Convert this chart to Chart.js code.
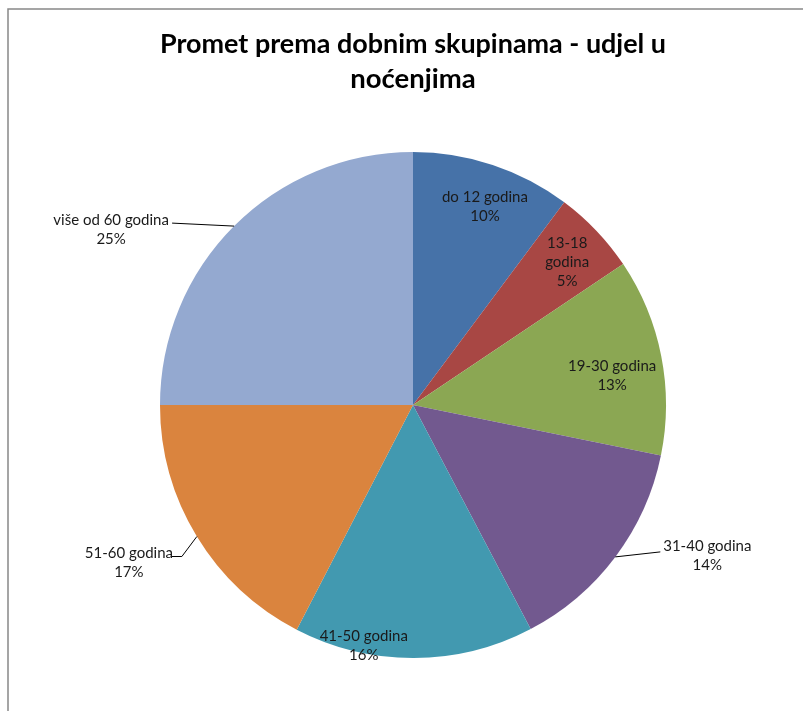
<!DOCTYPE html>
<html>
<head>
<meta charset="utf-8">
<script src="https://cdn.jsdelivr.net/npm/chart.js@4.4.1/dist/chart.umd.min.js"></script>
<style>
  html, body { margin: 0; padding: 0; background: #fff; }
  #wrap { position: relative; width: 803px; height: 711px; }
</style>
</head>
<body>
<div id="wrap"><canvas id="pie"></canvas></div>
<script>
// udio noćenja po dobnim skupinama (%), očitano s grafa
const titleLines = ['Promet prema dobnim skupinama - udjel u', 'noćenjima'];
const groups  = ['do 12 godina', '13-18 godina', '19-30 godina', '31-40 godina', '41-50 godina', '51-60 godina', 'više od 60 godina'];
const shares  = [10.2, 5.4, 12.6, 14.1, 15.3, 17.4, 25.0];
const shown   = ['10%', '5%', '13%', '14%', '16%', '17%', '25%'];
const colors  = ['#4672a8', '#a84744', '#8ba753', '#72598f', '#4299b0', '#da843e', '#94a9d0'];

// smještaj natpisa: unutar kriške (f = udio polumjera) ili vani s linijom
const labelPlacement = [
  { lines: ['do 12 godina'], f: 0.84, dx: 5, dy: 3 },
  { lines: ['13-18', 'godina'], f: 0.83, dx: 2, dy: 2 },
  { lines: ['19-30 godina'], f: 0.79, dx: 3, dy: 9 },
  { lines: ['31-40 godina'], f: 1.0, leader: [[45, -5]], tx: 47, ty: 4 },
  { lines: ['41-50 godina'], f: 0.95, dx: -50, dy: 0 },
  { lines: ['51-60 godina'], f: 1.0, leader: [[-15, 20], [-25, 20]], tx: -43, ty: 6 },
  { lines: ['više od 60 godina'], f: 1.0, leader: [[-62, -3]], tx: -61, ty: 7 },
];

const labelFont = '15px Lato, "Open Sans", sans-serif';
const lineH = 19;

const frame = {
  id: 'frame',
  beforeDraw(chart) {
    const c = chart.ctx;
    c.save();
    c.fillStyle = '#fff';
    c.fillRect(0, 0, chart.width, chart.height);
    c.strokeStyle = '#888';
    c.lineWidth = 1.5;
    c.beginPath();
    c.moveTo(8, chart.height);
    c.lineTo(8, 9);
    c.lineTo(chart.width, 9);
    c.stroke();
    c.restore();
  },
};

const sliceLabels = {
  id: 'sliceLabels',
  afterDatasetsDraw(chart) {
    const c = chart.ctx;
    const arcs = chart.getDatasetMeta(0).data;
    c.save();
    c.font = labelFont;
    c.fillStyle = '#1a1a1a';
    c.textAlign = 'center';
    c.textBaseline = 'middle';
    arcs.forEach((arc, i) => {
      const p = labelPlacement[i];
      const mid = (arc.startAngle + arc.endAngle) / 2;
      const r = arc.outerRadius * p.f;
      const ax = arc.x + Math.cos(mid) * r;
      const ay = arc.y + Math.sin(mid) * r;
      const text = p.lines.concat([shown[i]]);
      let cx, cy;
      if (p.leader) {
        c.strokeStyle = '#000';
        c.lineWidth = 1;
        c.beginPath();
        c.moveTo(ax, ay);
        p.leader.forEach(([lx, ly]) => c.lineTo(ax + lx, ay + ly));
        c.stroke();
        const [ex, ey] = p.leader[p.leader.length - 1];
        cx = ax + ex + p.tx;
        cy = ay + ey + p.ty;
      } else {
        cx = ax + p.dx;
        cy = ay + p.dy;
      }
      const top = cy - (text.length - 1) * lineH / 2;
      text.forEach((t, k) => c.fillText(t, cx, top + k * lineH));
    });
    c.restore();
  },
};

new Chart(document.getElementById('pie'), {
  type: 'pie',
  data: {
    labels: groups,
    datasets: [{
      data: shares,
      backgroundColor: colors,
      borderWidth: 0,
      hoverOffset: 0,
    }],
  },
  options: {
    responsive: true,
    maintainAspectRatio: false,
    animation: false,
    layout: { padding: { top: 0, bottom: 53, left: 160, right: 137 } },
    plugins: {
      legend: { display: false },
      tooltip: { enabled: false },
      title: {
        display: true,
        text: titleLines,
        color: '#000',
        font: { family: 'Lato, "Open Sans", sans-serif', size: 27.5, weight: 'bold', lineHeight: 1.2727 },
        padding: { top: 27, bottom: 55 },
      },
    },
  },
  plugins: [frame, sliceLabels],
});
</script>
</body>
</html>
